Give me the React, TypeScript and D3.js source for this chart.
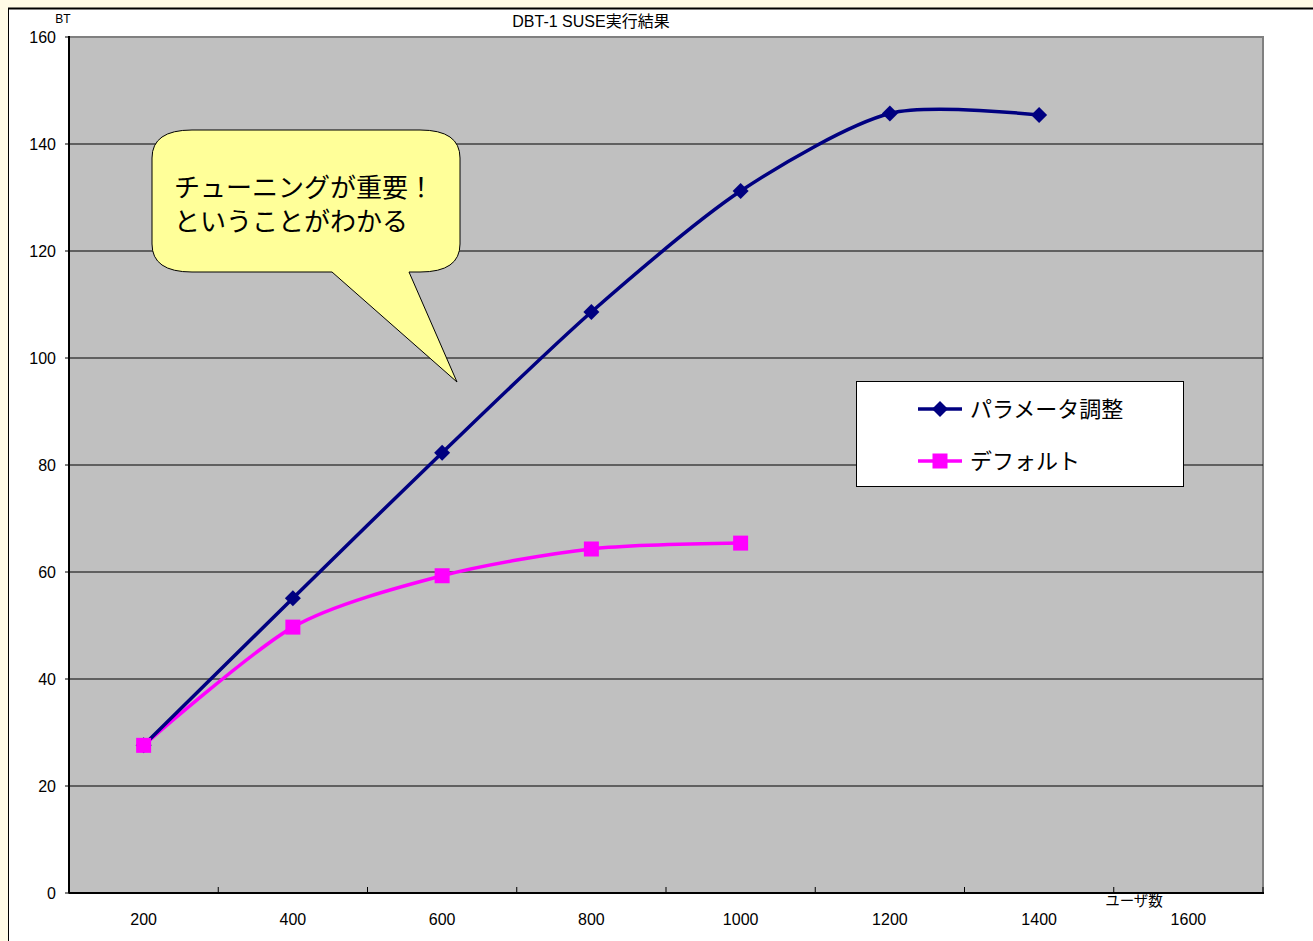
import React from "react";
import * as d3 from "d3";

const categories = ["200", "400", "600", "800", "1000", "1200", "1400", "1600"];
const tunedValues: (number | null)[] = [27.6, 55.1, 82.3, 108.6, 131.2, 145.7, 145.4, null];
const defaultValues: (number | null)[] = [27.6, 49.7, 59.3, 64.3, 65.4, null, null, null];
const yTicks = [0, 20, 40, 60, 80, 100, 120, 140, 160];
const seriesNames = ["パラメータ調整", "デフォルト"];
const title = "DBT-1 SUSE実行結果";
const yLabel = "BT";
const xLabel = "ユーザ数";
const calloutLines = ["チューニングが重要！", "ということがわかる"];

const W = 1313;
const H = 941;
const FONT = "'Liberation Sans', Arial, 'Noto Sans CJK JP', sans-serif";
const JFONT = "'Noto Sans CJK JP', 'Liberation Sans', sans-serif";

export default function App() {
  const plot = { left: 69, right: 1263, top: 37, bottom: 893 };
  const x = d3.scaleBand<string>().domain(categories).range([plot.left, plot.right]).padding(0);
  const y = d3.scaleLinear().domain([0, 160]).range([plot.bottom, plot.top]);
  const cx = (c: string) => (x(c) as number) + x.bandwidth() / 2;

  const mk = (vals: (number | null)[]) =>
    categories
      .map((c, i) => ({ c, v: vals[i] }))
      .filter((d) => d.v !== null) as { c: string; v: number }[];
  const tuned = mk(tunedValues);
  const def = mk(defaultValues);
  const line = d3
    .line<{ c: string; v: number }>()
    .x((d) => cx(d.c))
    .y((d) => y(d.v))
    .curve(d3.curveCardinal.tension(0.2));

  const bandTicks = categories.slice(1).map((c) => x(c) as number);

  const diamond = (px: number, py: number, r: number) =>
    `M${px},${py - r}L${px + r},${py}L${px},${py + r}L${px - r},${py}Z`;

  // callout shape
  const cb = { x0: 152, x1: 460, y0: 130, y1: 272, rx: 40, ry: 28 };
  const tail = { a: 332, b: 409, tipX: 457, tipY: 382 };
  const calloutPath = [
    `M${cb.x0 + cb.rx},${cb.y0}`,
    `L${cb.x1 - cb.rx},${cb.y0}`,
    `Q${cb.x1},${cb.y0} ${cb.x1},${cb.y0 + cb.ry}`,
    `L${cb.x1},${cb.y1 - cb.ry}`,
    `Q${cb.x1},${cb.y1} ${cb.x1 - cb.rx},${cb.y1}`,
    `L${tail.b},${cb.y1}`,
    `L${tail.tipX},${tail.tipY}`,
    `L${tail.a},${cb.y1}`,
    `L${cb.x0 + cb.rx},${cb.y1}`,
    `Q${cb.x0},${cb.y1} ${cb.x0},${cb.y1 - cb.ry}`,
    `L${cb.x0},${cb.y0 + cb.ry}`,
    `Q${cb.x0},${cb.y0} ${cb.x0 + cb.rx},${cb.y0}`,
    "Z",
  ].join(" ");

  const legend = { x: 856, y: 381, w: 327, h: 105 };

  return (
    <svg
      width={W}
      height={H}
      style={{ position: "absolute", left: 0, top: 0, display: "block" }}
    >
      <rect x={0} y={0} width={W} height={H} fill="#fffbe6" />
      <rect x={8.5} y={8.5} width={W + 10} height={H + 10} fill="#ffffff" stroke="#000" strokeWidth={1} />
      <line x1={8} x2={W} y1={8.5} y2={8.5} stroke="#000" strokeWidth={2} />

      {/* plot area */}
      <rect
        x={plot.left}
        y={plot.top}
        width={plot.right - plot.left}
        height={plot.bottom - plot.top}
        fill="#c0c0c0"
        stroke="#808080"
        strokeWidth={2}
      />
      {yTicks
        .filter((t) => t > 0 && t < 160)
        .map((t) => (
          <line key={t} x1={plot.left} x2={plot.right} y1={y(t)} y2={y(t)} stroke="#000" strokeWidth={1} />
        ))}
      {/* axes */}
      <line x1={plot.left} x2={plot.left} y1={plot.top - 1} y2={plot.bottom} stroke="#000" strokeWidth={2} />
      <line x1={plot.left} x2={plot.right + 1} y1={plot.bottom} y2={plot.bottom} stroke="#000" strokeWidth={2} />
      {yTicks.map((t) => (
        <g key={t}>
          <line x1={plot.left - 4} x2={plot.left} y1={y(t)} y2={y(t)} stroke="#000" strokeWidth={1} />
          <text x={56} y={y(t) + 6} textAnchor="end" fontFamily={FONT} fontSize={16} fill="#000">
            {t}
          </text>
        </g>
      ))}
      {bandTicks.map((tx, i) => (
        <line key={i} x1={tx} x2={tx} y1={plot.bottom} y2={plot.bottom - 6} stroke="#000" strokeWidth={1} />
      ))}
      <line x1={plot.right} x2={plot.right} y1={plot.bottom} y2={plot.bottom - 6} stroke="#000" strokeWidth={1} />
      {categories.map((c) => (
        <text key={c} x={cx(c)} y={925} textAnchor="middle" fontFamily={FONT} fontSize={16} fill="#000">
          {c}
        </text>
      ))}

      <text x={63} y={23} textAnchor="middle" fontFamily={FONT} fontSize={12} fill="#000">
        {yLabel}
      </text>
      <text x={591} y={27} textAnchor="middle" fontFamily={FONT} fontSize={16} fill="#000">
        {title}
      </text>
      <text x={1134} y={906} textAnchor="middle" fontFamily={FONT} fontSize={14.5} fill="#000">
        {xLabel}
      </text>

      {/* series */}
      <path d={line(def) || ""} fill="none" stroke="#ff00ff" strokeWidth={3.5} />
      <path d={line(tuned) || ""} fill="none" stroke="#000080" strokeWidth={3.5} />
      {tuned.map((d) => (
        <path key={d.c} d={diamond(cx(d.c), y(d.v), 8)} fill="#000080" />
      ))}
      {def.map((d) => (
        <rect key={d.c} x={cx(d.c) - 7.5} y={y(d.v) - 7.5} width={15} height={15} fill="#ff00ff" />
      ))}

      {/* callout */}
      <path d={calloutPath} fill="#ffff99" stroke="#000" strokeWidth={1} />
      {calloutLines.map((l, i) => (
        <text key={i} x={174} y={197 + i * 34} fontFamily={JFONT} fontSize={26} fill="#000">
          {l}
        </text>
      ))}

      {/* legend */}
      <rect x={legend.x + 0.5} y={legend.y + 0.5} width={legend.w} height={legend.h} fill="#fff" stroke="#000" strokeWidth={1} />
      <line x1={918} x2={962} y1={409} y2={409} stroke="#000080" strokeWidth={3.5} />
      <path d={diamond(940, 409, 8)} fill="#000080" />
      <text x={970} y={417} fontFamily={JFONT} fontSize={22} fill="#000">
        {seriesNames[0]}
      </text>
      <line x1={918} x2={962} y1={461} y2={461} stroke="#ff00ff" strokeWidth={3.5} />
      <rect x={932.5} y={453.5} width={15} height={15} fill="#ff00ff" />
      <text x={970} y={469} fontFamily={JFONT} fontSize={22} fill="#000">
        {seriesNames[1]}
      </text>
    </svg>
  );
}
